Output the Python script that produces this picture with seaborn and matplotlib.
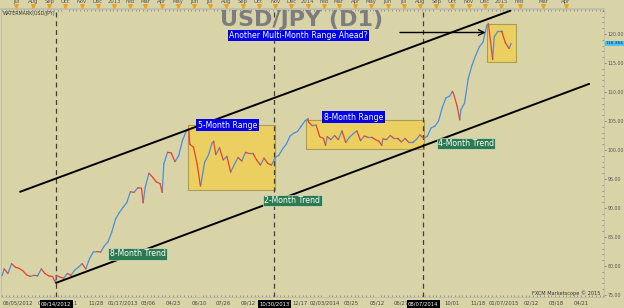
import matplotlib
matplotlib.use('Agg')
import matplotlib.pyplot as plt
import matplotlib.dates as mdates
from matplotlib.patches import Rectangle
import seaborn as sns
import pandas as pd

# ---------------- data ----------------
price_dates = [
    '2012-06-04', '2012-06-08', '2012-06-15', '2012-06-22', '2012-06-29', '2012-07-06', '2012-07-13',
    '2012-07-20', '2012-07-27', '2012-08-03', '2012-08-10', '2012-08-17', '2012-08-24', '2012-08-31',
    '2012-09-07', '2012-09-13', '2012-09-14', '2012-09-21', '2012-09-28', '2012-10-05', '2012-10-12',
    '2012-10-19', '2012-10-26', '2012-11-02', '2012-11-09', '2012-11-16', '2012-11-23', '2012-11-30',
    '2012-12-07', '2012-12-14', '2012-12-21', '2012-12-28',
    '2013-01-04', '2013-01-11', '2013-01-18', '2013-01-25', '2013-02-01', '2013-02-08', '2013-02-15',
    '2013-02-22', '2013-02-25', '2013-03-01', '2013-03-08', '2013-03-15', '2013-03-22', '2013-03-29',
    '2013-04-02', '2013-04-05', '2013-04-12', '2013-04-19', '2013-04-26', '2013-05-03', '2013-05-10',
    '2013-05-17', '2013-05-22', '2013-05-24', '2013-05-31', '2013-06-07', '2013-06-13', '2013-06-14',
    '2013-06-21', '2013-06-28', '2013-07-05', '2013-07-08', '2013-07-12', '2013-07-19', '2013-07-26',
    '2013-08-02', '2013-08-09', '2013-08-16', '2013-08-23', '2013-08-30', '2013-09-06', '2013-09-13',
    '2013-09-20', '2013-09-27', '2013-10-04', '2013-10-11', '2013-10-18', '2013-10-25', '2013-11-01',
    '2013-11-08', '2013-11-15', '2013-11-22', '2013-11-29', '2013-12-06', '2013-12-13', '2013-12-20',
    '2013-12-27',
    '2014-01-02', '2014-01-03', '2014-01-10', '2014-01-17', '2014-01-24', '2014-01-31', '2014-02-04',
    '2014-02-07', '2014-02-14', '2014-02-21', '2014-02-28', '2014-03-07', '2014-03-14', '2014-03-21',
    '2014-03-28', '2014-04-04', '2014-04-11', '2014-04-18', '2014-04-25', '2014-05-02', '2014-05-09',
    '2014-05-16', '2014-05-21', '2014-05-23', '2014-05-30', '2014-06-06', '2014-06-13', '2014-06-20',
    '2014-06-27', '2014-07-04', '2014-07-11', '2014-07-18', '2014-07-25', '2014-08-01', '2014-08-08',
    '2014-08-15', '2014-08-22', '2014-08-29', '2014-09-05', '2014-09-12', '2014-09-19', '2014-09-26',
    '2014-10-01', '2014-10-03', '2014-10-10', '2014-10-15', '2014-10-17', '2014-10-24', '2014-10-31',
    '2014-11-07', '2014-11-14', '2014-11-21', '2014-11-28', '2014-12-05', '2014-12-08', '2014-12-12',
    '2014-12-16', '2014-12-19', '2014-12-26',
    '2015-01-02', '2015-01-09', '2015-01-16', '2015-01-20',
]
price_values = [
    78.3, 79.5, 78.7, 80.4, 79.8, 79.6, 79.2,
    78.5, 78.2, 78.4, 78.3, 79.5, 78.7, 78.3,
    78.2, 77.1, 78.4, 78.1, 77.9, 78.7, 78.4,
    79.3, 79.8, 80.4, 79.5, 81.3, 82.4, 82.5,
    82.4, 83.5, 84.2, 85.9,
    88.1, 89.2, 90.1, 90.9, 92.8, 92.7, 93.5,
    93.4, 90.9, 93.6, 96.0, 95.3, 94.5, 94.2,
    92.7, 97.6, 99.6, 99.5, 98.0, 99.0, 101.6,
    103.2, 103.7, 101.0, 100.5, 97.5, 93.8, 94.1,
    97.9, 99.1, 101.2, 101.5, 99.2, 100.4, 98.3,
    98.9, 96.2, 97.5, 98.7, 98.1, 99.6, 99.4,
    99.4, 98.3, 97.4, 98.6, 97.7, 97.4, 98.7,
    99.1, 100.2, 101.0, 102.4, 102.9, 103.2, 104.1,
    105.0,
    105.4, 104.8, 104.2, 104.3, 102.3, 102.0, 100.8,
    102.3, 101.8, 102.5, 101.8, 103.3, 101.3, 102.2,
    102.8, 103.3, 101.6, 102.4, 102.2, 102.2, 101.8,
    101.5, 100.8, 101.9, 101.8, 102.5, 102.0, 102.0,
    101.4, 102.0, 101.3, 101.3, 101.8, 102.6, 102.0,
    102.4, 103.8, 104.1, 105.0, 107.3, 109.0, 109.3,
    110.1, 109.8, 107.6, 105.2, 106.9, 108.1, 112.3,
    114.6, 116.3, 117.8, 118.6, 121.5, 121.8, 118.8,
    115.6, 119.5, 120.5,
    120.5, 118.5, 117.5, 118.384,
]
last_price = 118.384

range_starts = ['2013-05-20', '2013-12-30', '2014-12-05']
range_ends = ['2013-10-31', '2014-08-08', '2015-01-30']
range_lows = [93.1, 100.1, 115.2]
range_highs = [104.3, 105.2, 121.7]

upper_line_dates = ['2012-07-08', '2015-01-18']
upper_line_prices = [92.8, 124.0]
lower_line_dates = ['2012-09-14', '2015-06-16']
lower_line_prices = [77.1, 111.4]

arrow_dates = ['2014-06-19', '2014-12-08']
arrow_price = 120.26

marker_dates = ['2012-09-14', '2013-10-30', '2014-08-07']
marker_labels = ['09/14/2012', '10/30/2013', '08/07/2014']

# tick placement on the chart's bar scale (future area is spread wider by the platform)
bottom_tick_dates = ['2012-06-05', '2012-08-24', '2012-10-11', '2012-11-28', '2013-01-17', '2013-03-06',
                     '2013-04-23', '2013-06-10', '2013-07-26', '2013-09-12', '2013-12-17', '2014-02-03',
                     '2014-03-25', '2014-05-12', '2014-06-27', '2014-10-01', '2014-11-18', '2015-01-07',
                     '2015-02-26', '2015-04-15', '2015-06-02']
bottom_tick_labels = ['06/05/2012', '08/24', '10/11', '11/28', '01/17/2013', '03/06',
                      '04/23', '06/10', '07/26', '09/12', '12/17', '02/03/2014',
                      '03/25', '05/12', '06/27', '10/01', '11/18', '01/07/2015',
                      '02/12', '03/18', '04/21']
top_tick_dates = list(pd.date_range('2012-07-01', '2015-01-01', freq='MS').strftime('%Y-%m-%d')) + \
                 ['2015-02-05', '2015-03-21', '2015-05-03']
top_tick_labels = ['Jul', 'Aug', 'Sep', 'Oct', 'Nov', 'Dec', '2013', 'Feb', 'Mar', 'Apr', 'May', 'Jun',
                   'Jul', 'Aug', 'Sep', 'Oct', 'Nov', 'Dec', '2014', 'Feb', 'Mar', 'Apr', 'May', 'Jun',
                   'Jul', 'Aug', 'Sep', 'Oct', 'Nov', 'Dec', '2015', 'Feb', 'Mar', 'Apr']

y_ticks = [75, 80, 85, 90, 95, 100, 105, 110, 115, 120]

# ---------------- style ----------------
sns.set_theme(style='white')
plt.rcParams['font.family'] = ['DejaVu Sans']
BG = '#d9d4a8'

fig = plt.figure(figsize=(6.24, 3.08), dpi=100, facecolor=BG)
ax = fig.add_axes([1 / 624, 11 / 308, 603 / 624, 288 / 308])
ax.set_facecolor(BG)

# price path as up/down coloured segments
d = pd.to_datetime(price_dates)
rows = []
for i in range(len(price_values) - 1):
    direction = 'up' if price_values[i + 1] >= price_values[i] else 'down'
    rows.append((i, d[i], price_values[i], direction))
    rows.append((i, d[i + 1], price_values[i + 1], direction))
seg = pd.DataFrame(rows, columns=['seg', 'date', 'price', 'dir'])
sns.lineplot(data=seg, x='date', y='price', hue='dir', units='seg', estimator=None,
             palette={'up': '#4a8ee0', 'down': '#e8412c'}, legend=False,
             linewidth=0.9, ax=ax, zorder=3)

# range boxes
for s, e, lo, hi in zip(range_starts, range_ends, range_lows, range_highs):
    x0 = mdates.date2num(pd.Timestamp(s))
    x1 = mdates.date2num(pd.Timestamp(e))
    ax.add_patch(Rectangle((x0, lo), x1 - x0, hi - lo, facecolor='#f0cf55', alpha=0.85,
                           edgecolor='#a0924e', linewidth=0.8, zorder=1))

# trend lines
ax.plot(pd.to_datetime(upper_line_dates), upper_line_prices, color='black', lw=1.4, zorder=4)
ax.plot(pd.to_datetime(lower_line_dates), lower_line_prices, color='black', lw=1.4, zorder=4)

# arrow
ax.annotate('', xy=(mdates.date2num(pd.Timestamp(arrow_dates[1])), arrow_price),
            xytext=(mdates.date2num(pd.Timestamp(arrow_dates[0])), arrow_price),
            arrowprops=dict(arrowstyle='->', color='black', lw=1.0, mutation_scale=10), zorder=5)

# dashed markers
for md in marker_dates:
    ax.axvline(pd.Timestamp(md), color='#3f3f3f', lw=0.9, ls=(0, (4, 3)), zorder=2)

# limits
x_lo = mdates.date2num(pd.Timestamp('2012-06-02'))
x_hi = mdates.date2num(pd.Timestamp('2015-07-14'))
ax.set_xlim(x_lo, x_hi)
ax.set_ylim(74.66, 124.31)
ax.set_xlabel('')
ax.set_ylabel('')

# right price axis
ax.yaxis.tick_right()
ax.set_yticks(y_ticks)
ax.set_yticklabels([f'{v:.2f}' for v in y_ticks], fontsize=3.4, color='#555555')
ax.yaxis.set_minor_locator(matplotlib.ticker.MultipleLocator(1))
ax.tick_params(axis='y', which='major', direction='out', length=1.5, width=0.5, color='#666666', pad=1.0)
ax.tick_params(axis='y', which='minor', direction='in', length=1.5, width=0.4, color='#666666', right=True)
ax.text(1.002, last_price, f'{last_price:.3f}', transform=ax.get_yaxis_transform(), fontsize=3.2,
        color='#073060', va='center', ha='left', clip_on=False,
        bbox=dict(boxstyle='square,pad=0.12', fc='#4cc3f2', ec='none'), zorder=6)

# bottom date axis
ax.set_xticks(mdates.date2num(pd.to_datetime(bottom_tick_dates)))
ax.set_xticklabels(bottom_tick_labels, fontsize=3.8, color='#444444')
ax.xaxis.set_minor_locator(mdates.WeekdayLocator(byweekday=0))
ax.tick_params(axis='x', which='major', length=0, pad=2.5)
ax.tick_params(axis='x', which='minor', direction='in', length=1.6, width=0.4, color='#666666', bottom=True)
ax.get_xticklabels()[0].set_ha('left')
for md, lab in zip(marker_dates, marker_labels):
    ax.text(pd.Timestamp(md), -0.024, lab, transform=ax.get_xaxis_transform(), fontsize=3.8,
            color='white', ha='center', va='center', clip_on=False,
            bbox=dict(boxstyle='square,pad=0.25', fc='black', ec='none'), zorder=6)

# top month axis
sec = ax.secondary_xaxis('top')
sec.set_xticks(mdates.date2num(pd.to_datetime(top_tick_dates)))
sec.set_xticklabels(top_tick_labels, fontsize=3.8, color='#555555')
sec.tick_params(axis='x', which='major', length=0, pad=3.5)
sec.xaxis.set_minor_locator(mdates.WeekdayLocator(byweekday=0))
sec.tick_params(axis='x', which='minor', direction='in', length=1.6, width=0.4, color='#666666')
sec.spines['top'].set_color('#bdbdae')
ax.plot(pd.to_datetime(top_tick_dates), [1.012] * len(top_tick_dates), transform=ax.get_xaxis_transform(),
        marker='v', ls='none', ms=2.6, color='#f0a020', clip_on=False, zorder=6)

for sp in ax.spines.values():
    sp.set_color('#bdbdae')
    sp.set_linewidth(0.6)

# annotations
def ftext(px, py, s, **kw):
    fig.text(px / 624, 1 - py / 308, s, **kw)

ftext(302, 20, 'USD/JPY (D1)', fontsize=16, fontweight='bold', color='#7d7d7d', ha='center', va='center')
ftext(3, 13, 'WATERMARK(USD/JPY)', fontsize=3.4, color='#333333', ha='left', va='center')
ftext(600, 293, 'FXCM Marketscope \u00a9 2015', fontsize=3.6, color='#333333', ha='right', va='center')

blue_box = dict(boxstyle='square,pad=0.18', fc='#0000ee', ec='none')
green_box = dict(boxstyle='square,pad=0.18', fc='#2c7a50', ec='#e8efe0', lw=0.4)
ftext(298.5, 35.5, 'Another Multi-Month Range Ahead?', fontsize=5.6, color='white',
      ha='center', va='center', bbox=blue_box)
ftext(227.5, 125, '5-Month Range', fontsize=5.6, color='white', ha='center', va='center', bbox=blue_box)
ftext(353.5, 117, '8-Month Range', fontsize=5.6, color='white', ha='center', va='center', bbox=blue_box)
ftext(466, 143.5, '4-Month Trend', fontsize=5.6, color='white', ha='center', va='center', bbox=green_box)
ftext(292.5, 200.5, '2-Month Trend', fontsize=5.6, color='white', ha='center', va='center', bbox=green_box)
ftext(137.5, 254, '8-Month Trend', fontsize=5.6, color='white', ha='center', va='center', bbox=green_box)

fig.savefig('out.png', dpi=100, facecolor=BG)
